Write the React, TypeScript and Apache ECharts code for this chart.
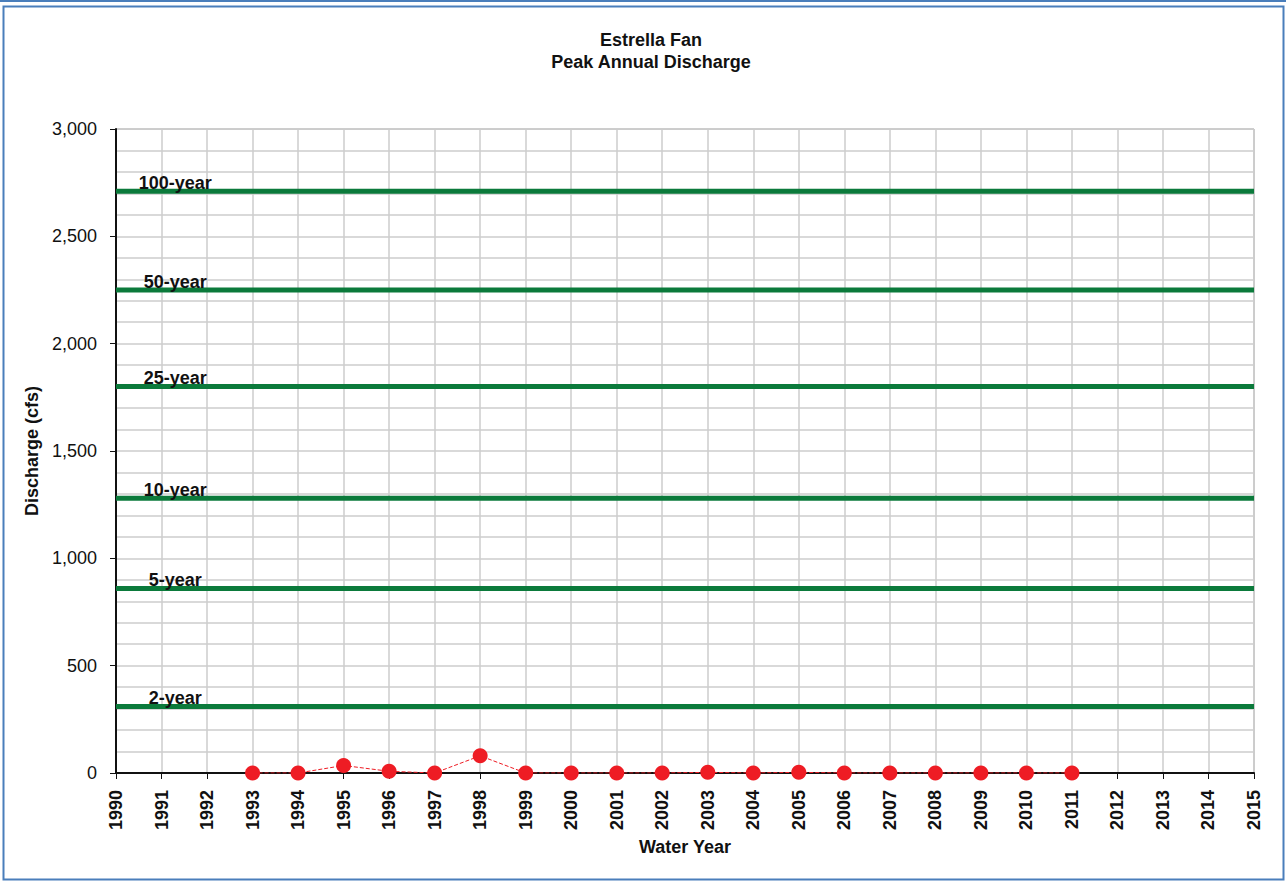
import React, { useEffect, useRef } from "react";
import * as echarts from "echarts";

const titleLines = ["Estrella Fan", "Peak Annual Discharge"];
const years = [1993, 1994, 1995, 1996, 1997, 1998, 1999, 2000, 2001, 2002, 2003, 2004, 2005, 2006, 2007, 2008, 2009, 2010, 2011];
const peaks = [0, 0, 35, 8, 0, 80, 0, 0, 0, 0, 3, 0, 3, 0, 0, 0, 0, 0, 0];
const returnLabels = ["100-year", "50-year", "25-year", "10-year", "5-year", "2-year"];
const returnValues = [2710, 2250, 1800, 1280, 860, 310];
const xMin = 1990;
const xMax = 2015;
const labelYear = 1991.3;

export default function App() {
  const ref = useRef<HTMLDivElement>(null);
  useEffect(() => {
    if (!ref.current) return;
    const chart = echarts.init(ref.current, null, { renderer: "svg" });
    const green = "#0b7a3b";
    const red = "#ee1c24";
    const font = "Liberation Sans, Arial, sans-serif";
    const returnSeries = returnLabels.map((name, i) => ({
      type: "line",
      name,
      data: [
        [xMin, returnValues[i]],
        [xMax, returnValues[i]],
      ],
      showSymbol: false,
      symbol: "none",
      lineStyle: { color: green, width: 5 },
      z: 3,
      silent: true,
    }));
    chart.setOption({
      animation: false,
      backgroundColor: "#ffffff",
      textStyle: { fontFamily: font },
      title: {
        text: titleLines.join("\n"),
        left: 646,
        textAlign: "center",
        top: 24,
        textStyle: { fontSize: 18, fontWeight: "bold", color: "#111", lineHeight: 22, fontFamily: font },
      },
      graphic: [
        { type: "line", shape: { x1: 0, y1: 1, x2: 1286, y2: 1 }, style: { stroke: "#4a7ebb", lineWidth: 2 } },
        { type: "rect", shape: { x: 3.5, y: 6.5, width: 1280, height: 873 }, style: { fill: "none", stroke: "#4a7ebb", lineWidth: 2 } },
      ],
      grid: {
        left: 116,
        right: 32,
        top: 129,
        bottom: 109,
        show: true,
        borderColor: "#9a9a9a",
        borderWidth: 1,
      },
      xAxis: {
        type: "value",
        min: xMin,
        max: xMax,
        interval: 1,
        name: "Water Year",
        nameLocation: "middle",
        nameGap: 64,
        nameTextStyle: { fontSize: 18, fontWeight: "bold", color: "#111", fontFamily: font },
        axisLine: { show: true, onZero: true, lineStyle: { color: "#111", width: 2 } },
        axisTick: { show: true, length: 6, lineStyle: { color: "#111", width: 1 } },
        axisLabel: {
          rotate: 90,
          margin: 17,
          fontSize: 18,
          fontWeight: "bold",
          color: "#111",
          fontFamily: font,
          formatter: (v: number) => String(v),
        },
        splitLine: { show: true, lineStyle: { color: "#cccccc", width: 1.5 } },
      },
      yAxis: {
        type: "value",
        min: 0,
        max: 3000,
        interval: 500,
        name: "Discharge (cfs)",
        nameLocation: "middle",
        nameGap: 64,
        nameTextStyle: { fontSize: 18, fontWeight: "bold", color: "#111", fontFamily: font },
        axisLine: { show: true, lineStyle: { color: "#111", width: 2 } },
        axisTick: { show: true, length: 6, lineStyle: { color: "#111", width: 1 } },
        axisLabel: {
          margin: 19,
          fontSize: 18,
          color: "#111",
          fontFamily: font,
          formatter: (v: number) => v.toLocaleString("en-US"),
        },
        minorTick: { show: false, splitNumber: 5 },
        splitLine: { show: true, lineStyle: { color: "#cccccc", width: 1.5 } },
        minorSplitLine: { show: true, lineStyle: { color: "#cccccc", width: 1.5 } },
      },
      series: [
        ...returnSeries,
        {
          type: "scatter",
          name: "Return period labels",
          data: returnLabels.map((n, i) => [labelYear, returnValues[i], n]),
          symbolSize: 1,
          itemStyle: { color: "rgba(0,0,0,0)", opacity: 1 },
          silent: true,
          z: 6,
          label: {
            show: true,
            position: "top",
            distance: -1,
            formatter: (p: any) => p.value[2],
            color: "#111",
            opacity: 1,
            fontSize: 18,
            fontWeight: "bold",
            fontFamily: font,
          },
        },
        {
          type: "line",
          name: "Peak",
          data: years.map((y, i) => [y, peaks[i]]),
          symbol: "circle",
          symbolSize: 15,
          itemStyle: { color: red },
          lineStyle: { color: red, width: 1, type: "dashed" },
          z: 5,
        },
      ],
    });
    return () => chart.dispose();
  }, []);
  return (
    <div
      ref={ref}
      style={{ position: "absolute", left: 0, top: 0, width: 1286, height: 882 }}
    />
  );
}
